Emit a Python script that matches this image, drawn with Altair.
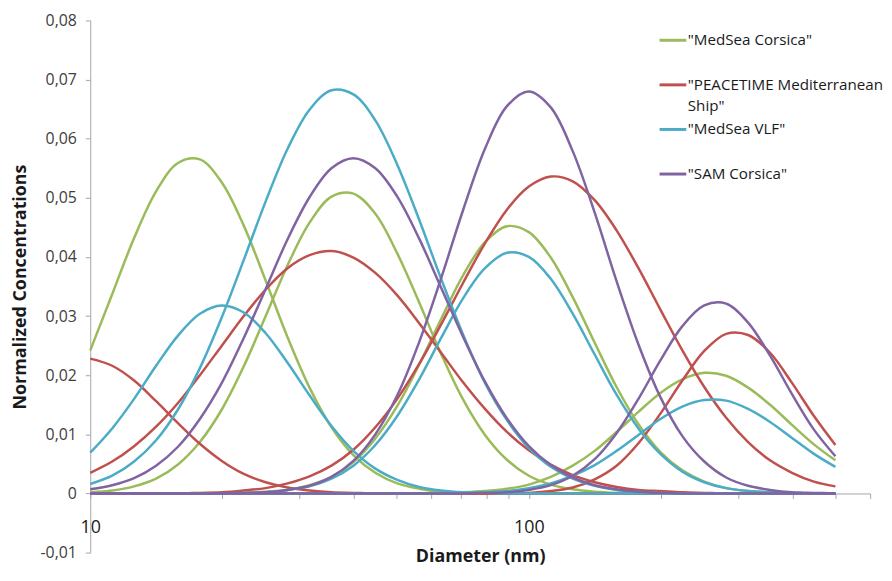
import altair as alt
import pandas as pd

# Diameters (nm) at which the curves were read (log-spaced)
diameter = [10, 11.22, 12.59, 14.13, 15.85, 17.78, 19.95, 22.39, 25.12, 28.18,
            31.62, 35.48, 39.81, 44.67, 50.12, 56.23, 63.1, 70.79, 79.43, 89.13,
            100, 112.2, 125.9, 141.3, 158.5, 177.8, 199.5, 223.9, 251.2, 281.8,
            316.2, 354.8, 398.1, 446.7, 500]

series_names = ['"MedSea Corsica"', '"PEACETIME Mediterranean Ship"',
                '"MedSea VLF"', '"SAM Corsica"']
series_colors = ["#9BBB59", "#C0504D", "#4BACC6", "#8064A2"]

# "MedSea Corsica" modes
medsea_corsica_1 = [.0242, .0337, .0432, .0511, .0559, .0565, .0526, .0453, .0360, .0264,
                    .0179, .0112, .0065, .0035, .0017, .0008, .0003, .0001, 0, 0,
                    0, 0, 0, 0, 0, 0, 0, 0, 0, 0, 0, 0, 0, 0, 0]
medsea_corsica_2 = [.0002, .0005, .0012, .0025, .0049, .0087, .0142, .0215, .0300, .0386,
                    .0458, .0502, .0507, .0473, .0406, .0323, .0236, .0159, .0099, .0057,
                    .0030, .0015, .0007, .0003, .0001, 0, 0, 0, 0, 0, 0, 0, 0, 0, 0]
medsea_corsica_3 = [0, 0, 0, 0, 0, 0, 0, .0001, .0003, .0006,
                    .0014, .0028, .0053, .0093, .0148, .0218, .0295, .0369, .0425, .0452,
                    .0442, .0399, .0332, .0255, .0180, .0117, .0070, .0039, .0020, .0009,
                    .0004, .0002, .0001, 0, 0]
medsea_corsica_4 = [0, 0, 0, 0, 0, 0, 0, 0, 0, 0,
                    0, 0, 0, 0, 0, 0, .0001, .0002, .0004, .0008,
                    .0015, .0028, .0047, .0072, .0104, .0138, .0170, .0193, .0204, .0199,
                    .0179, .0150, .0116, .0083, .0056]

# "PEACETIME Mediterranean Ship" modes
peacetime_1 = [.0228, .0216, .0191, .0156, .0119, .0084, .0055, .0033, .0019, .0010,
               .0005, .0002, .0001, 0, 0, 0, 0, 0, 0, 0,
               0, 0, 0, 0, 0, 0, 0, 0, 0, 0, 0, 0, 0, 0, 0]
peacetime_2 = [.0035, .0054, .0080, .0113, .0153, .0200, .0250, .0300, .0345, .0381,
               .0403, .0410, .0399, .0373, .0335, .0288, .0238, .0188, .0143, .0104,
               .0073, .0049, .0031, .0019, .0011, .0006, .0004, .0002, .0001, 0,
               0, 0, 0, 0, 0]
peacetime_3 = [0, 0, 0, 0, 0, .0001, .0002, .0005, .0009, .0017,
               .0029, .0047, .0074, .0112, .0160, .0219, .0286, .0356, .0423, .0480,
               .0519, .0536, .0528, .0496, .0445, .0381, .0311, .0242, .0180, .0128,
               .0087, .0056, .0035, .0020, .0012]
peacetime_4 = [0, 0, 0, 0, 0, 0, 0, 0, 0, 0,
               0, 0, 0, 0, 0, 0, 0, 0, 0, 0,
               .0001, .0004, .0010, .0024, .0047, .0085, .0135, .0191, .0241, .0270,
               .0268, .0238, .0187, .0131, .0082]

# "MedSea VLF" modes
medsea_vlf_1 = [.0069, .0110, .0160, .0216, .0267, .0304, .0318, .0306, .0271, .0221,
                .0166, .0114, .0072, .0042, .0023, .0011, .0005, .0002, .0001, 0,
                0, 0, 0, 0, 0, 0, 0, 0, 0, 0, 0, 0, 0, 0, 0]
medsea_vlf_2 = [.0016, .0030, .0054, .0090, .0142, .0212, .0298, .0395, .0494, .0583,
                .0649, .0682, .0675, .0631, .0556, .0463, .0363, .0269, .0187, .0124,
                .0077, .0045, .0025, .0013, .0006, .0003, .0001, 0, 0, 0,
                0, 0, 0, 0, 0]
medsea_vlf_3 = [0, 0, 0, 0, 0, 0, 0, .0001, .0002, .0006,
                .0012, .0025, .0047, .0082, .0131, .0193, .0263, .0330, .0381, .0407,
                .0400, .0363, .0304, .0235, .0167, .0110, .0067, .0037, .0019, .0009,
                .0004, .0002, .0001, 0, 0]
medsea_vlf_4 = [0, 0, 0, 0, 0, 0, 0, 0, 0, 0,
                0, 0, 0, 0, 0, 0, 0, .0001, .0002, .0004,
                .0009, .0017, .0030, .0048, .0072, .0099, .0126, .0147, .0158, .0157,
                .0143, .0121, .0094, .0067, .0045]

# "SAM Corsica" modes
sam_corsica_1 = [.0007, .0014, .0026, .0047, .0079, .0126, .0187, .0263, .0346, .0430,
                 .0501, .0550, .0567, .0550, .0502, .0431, .0348, .0265, .0189, .0127,
                 .0080, .0048, .0027, .0014, .0007, .0003, .0001, 0, 0, 0,
                 0, 0, 0, 0, 0]
sam_corsica_2 = [0, 0, 0, 0, 0, 0, 0, .0001, .0002, .0006,
                 .0013, .0028, .0055, .0100, .0166, .0256, .0364, .0479, .0583, .0655,
                 .0680, .0653, .0579, .0475, .0359, .0252, .0163, .0097, .0054, .0027,
                 .0013, .0006, .0002, .0001, 0]
sam_corsica_3 = [0, 0, 0, 0, 0, 0, 0, 0, 0, 0,
                 0, 0, 0, 0, 0, 0, 0, 0, .0001, .0002,
                 .0006, .0014, .0030, .0058, .0102, .0160, .0225, .0283, .0318, .0321,
                 .0289, .0233, .0168, .0108, .0063]

curves = [
    (series_names[0], 1, medsea_corsica_1), (series_names[0], 2, medsea_corsica_2),
    (series_names[0], 3, medsea_corsica_3), (series_names[0], 4, medsea_corsica_4),
    (series_names[1], 1, peacetime_1), (series_names[1], 2, peacetime_2),
    (series_names[1], 3, peacetime_3), (series_names[1], 4, peacetime_4),
    (series_names[2], 1, medsea_vlf_1), (series_names[2], 2, medsea_vlf_2),
    (series_names[2], 3, medsea_vlf_3), (series_names[2], 4, medsea_vlf_4),
    (series_names[3], 1, sam_corsica_1), (series_names[3], 2, sam_corsica_2),
    (series_names[3], 3, sam_corsica_3),
]

rows = []
for name, mode, values in curves:
    for d, v in zip(diameter, values):
        rows.append({"series": name, "mode": f"{name}-{mode}", "d": d, "v": v})
df = pd.DataFrame(rows)

x_ticks = [10, 20, 30, 40, 50, 60, 70, 80, 90, 100, 200, 300, 400, 500, 600]
y_ticks = [-0.01, 0.0, 0.01, 0.02, 0.03, 0.04, 0.05, 0.06, 0.07, 0.08]

axis_grey = "#A6A6A6"
FONT = "Open Sans"

chart = alt.Chart(df).mark_line(interpolate="catmull-rom", strokeWidth=2.5).encode(
    x=alt.X("d:Q",
            scale=alt.Scale(type="log", domain=[10, 600], nice=False),
            axis=alt.Axis(values=x_ticks, format=".0f",
                          labelExpr="(datum.value == 10 || datum.value == 100) ? datum.label : ''",
                          labelFlush=False,
                          grid=False, offset=-59.67, domainColor=axis_grey, tickColor=axis_grey,
                          tickSize=5, labelFont=FONT, labelFontSize=18, labelColor="#1a1a1a",
                          labelPadding=20, title="Diameter (nm)", titleFont=FONT,
                          titleFontSize=18, titleFontWeight="bold", titleColor="#1a1a1a",
                          titlePadding=12)),
    y=alt.Y("v:Q",
            scale=alt.Scale(domain=[-0.01, 0.08], nice=False, zero=False),
            axis=alt.Axis(values=y_ticks,
                          labelExpr="datum.value == 0 ? '0' : replace(replace(format(datum.value, '.2f'), '.', ','), '\u2212', '-')",
                          grid=False, domainColor=axis_grey, tickColor=axis_grey, tickSize=5,
                          labelFont=FONT, labelFontSize=16, labelColor="#404040", labelPadding=9,
                          title="Normalized Concentrations", titleFont=FONT, titleFontSize=18,
                          titleFontWeight="bold", titleColor="#1a1a1a", titlePadding=11)),
    color=alt.Color("series:N",
                    scale=alt.Scale(domain=series_names, range=series_colors),
                    legend=alt.Legend(orient="none", legendX=573, legendY=5, title=None,
                                      symbolType="stroke", symbolSize=729, symbolStrokeWidth=3,
                                      labelFont=FONT, labelFontSize=15.3, labelColor="#1a1a1a",
                                      labelLimit=400, labelOffset=0, rowPadding=0,
                                      gridAlign="all", padding=0,
                                      labelExpr="indexof(datum.label, 'PEACETIME') >= 0 ? ['\"PEACETIME Mediterranean', 'Ship\"'] : datum.label")),
    detail="mode:N",
).properties(
    width=787, height=537,
    autosize=alt.AutoSizeParams(type="none"),
    padding={"left": 83, "top": 10, "right": 14, "bottom": 14},
).configure(
    style={"guide-label": {"lineHeight": 21}}
).configure_view(stroke=None)

chart.save("out.html", embed_options={"renderer": "svg", "actions": False})
